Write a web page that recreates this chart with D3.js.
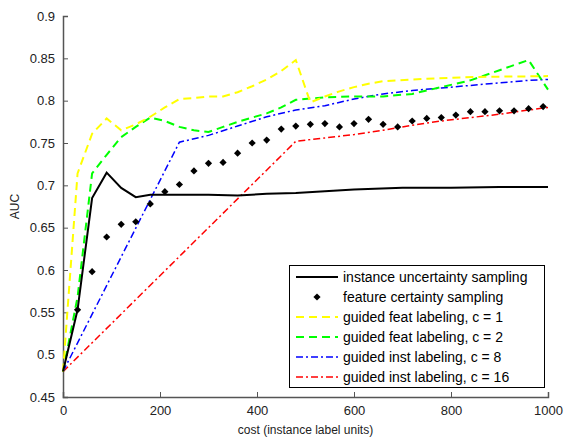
<!DOCTYPE html>
<html>
<head>
<meta charset="utf-8">
<script src="https://cdn.jsdelivr.net/npm/d3@7"></script>
<style>
  body { margin: 0; background: #fff; }
  text { font-family: "Liberation Sans", Arial, sans-serif; }
</style>
</head>
<body>
<div id="chart"></div>
<script>
// Data (cost, AUC)
const instUncertainty = [[0,0.48],[30,0.553],[60,0.685],[90,0.715],[120,0.697],[150,0.686],[180,0.689],[240,0.689],[300,0.689],[360,0.688],[420,0.690],[480,0.691],[540,0.693],[600,0.695],[700,0.697],[800,0.697],[900,0.698],[1000,0.698]];
const featCertainty = [[30,0.553],[60,0.598],[90,0.639],[120,0.654],[150,0.657],[180,0.678],[210,0.6925],[240,0.701],[270,0.717],[300,0.726],[330,0.727],[360,0.738],[390,0.750],[420,0.7535],[450,0.7665],[480,0.770],[510,0.772],[540,0.773],[570,0.769],[600,0.773],[630,0.778],[660,0.772],[690,0.769],[720,0.776],[750,0.779],[780,0.780],[810,0.783],[840,0.787],[870,0.787],[900,0.788],[930,0.788],[960,0.7905],[990,0.793]];
const guidedFeat1 = [[0,0.48],[30,0.714],[60,0.761],[90,0.779],[120,0.765],[150,0.772],[180,0.781],[210,0.792],[240,0.802],[270,0.803],[300,0.805],[330,0.805],[360,0.810],[390,0.817],[420,0.825],[450,0.835],[480,0.848],[510,0.798],[540,0.805],[570,0.811],[600,0.816],[630,0.820],[660,0.823],[690,0.824],[750,0.826],[850,0.828],[1000,0.829]];
const guidedFeat2 = [[0,0.48],[30,0.568],[60,0.714],[90,0.736],[120,0.757],[150,0.769],[180,0.780],[210,0.776],[240,0.769],[270,0.765],[300,0.763],[330,0.769],[360,0.775],[390,0.780],[420,0.785],[450,0.792],[480,0.801],[540,0.804],[600,0.805],[660,0.805],[720,0.808],[780,0.816],[840,0.824],[900,0.836],[960,0.848],[1000,0.813]];
const guidedInst8 = [[0,0.48],[240,0.751],[300,0.759],[360,0.770],[420,0.781],[480,0.789],[540,0.794],[600,0.802],[660,0.808],[720,0.812],[780,0.815],[840,0.818],[900,0.821],[960,0.824],[1000,0.825]];
const guidedInst16 = [[0,0.48],[480,0.752],[540,0.756],[600,0.760],[660,0.765],[720,0.771],[780,0.776],[840,0.780],[900,0.784],[960,0.789],[1000,0.792]];

const xTicks = [0, 200, 400, 600, 800, 1000];
const yTicks = [0.45, 0.5, 0.55, 0.6, 0.65, 0.7, 0.75, 0.8, 0.85, 0.9];

const width = 564, height = 438;
const margin = { left: 63, right: 16, top: 16, bottom: 41 };

const svg = d3.select("#chart").append("svg")
  .attr("width", width)
  .attr("height", height);

const x = d3.scaleLinear().domain([0, 1000]).range([margin.left, width - margin.right]);
const y = d3.scaleLinear().domain([0.45, 0.9]).range([height - margin.bottom, margin.top]);

// Axes (MATLAB style, ticks pointing inward)
const axisColor = "#555";
const xAxis = svg.append("g")
  .attr("transform", `translate(0,${y(0.45)})`)
  .call(d3.axisBottom(x).tickValues(xTicks).tickSize(-5).tickPadding(9).tickFormat(d3.format("d")));
const yAxis = svg.append("g")
  .attr("transform", `translate(${x(0)},0)`)
  .call(d3.axisLeft(y).tickValues(yTicks).tickSize(-5).tickPadding(8).tickFormat(d => d3.format("")(d)));
[xAxis, yAxis].forEach(a => {
  a.select(".domain").attr("stroke", axisColor).attr("stroke-width", 1.5);
  a.selectAll(".tick line").attr("stroke", axisColor);
  a.selectAll(".tick text").attr("fill", "#222").style("font-size", "13px");
});

svg.append("text")
  .attr("x", x(500)).attr("y", 434)
  .attr("text-anchor", "middle")
  .style("font-size", "12px").attr("fill", "#222")
  .text("cost (instance label units)");

svg.append("text")
  .attr("transform", `translate(19,${y(0.675)}) rotate(-90)`)
  .attr("text-anchor", "middle")
  .style("font-size", "12px").attr("fill", "#222")
  .text("AUC");

const line = d3.line().x(d => x(d[0])).y(d => y(d[1]));

const series = [
  { name: "guided inst labeling, c = 16", data: guidedInst16, color: "#ff0000", dash: "7,3,2,3", width: 1.5 },
  { name: "guided inst labeling, c = 8", data: guidedInst8, color: "#0000ff", dash: "7,3,2,3", width: 1.5 },
  { name: "guided feat labeling, c = 2", data: guidedFeat2, color: "#00ff00", dash: "8,5", width: 2 },
  { name: "guided feat labeling, c = 1", data: guidedFeat1, color: "#ffff00", dash: "8,5", width: 2 },
  { name: "instance uncertainty sampling", data: instUncertainty, color: "#000", dash: null, width: 2 }
];

series.forEach(s => {
  svg.append("path")
    .datum(s.data)
    .attr("fill", "none")
    .attr("stroke", s.color)
    .attr("stroke-width", s.width)
    .attr("stroke-dasharray", s.dash)
    .attr("d", line);
});

// small square diamond marker like MATLAB's '.' style points
const diamond = "M0,-3.6L3.6,0L0,3.6L-3.6,0Z";
svg.append("g").selectAll("path")
  .data(featCertainty)
  .join("path")
    .attr("transform", d => `translate(${x(d[0])},${y(d[1])})`)
    .attr("d", diamond)
    .attr("fill", "#000");

// Legend
const legendItems = [
  { name: "instance uncertainty sampling", color: "#000", dash: null, marker: false, width: 2 },
  { name: "feature certainty sampling", color: "#000", dash: null, marker: true },
  { name: "guided feat labeling, c = 1", color: "#ffff00", dash: "8,5", marker: false, width: 2 },
  { name: "guided feat labeling, c = 2", color: "#00ff00", dash: "8,5", marker: false, width: 2 },
  { name: "guided inst labeling, c = 8", color: "#0000ff", dash: "7,3,2,3", marker: false, width: 1.5 },
  { name: "guided inst labeling, c = 16", color: "#ff0000", dash: "7,3,2,3", marker: false, width: 1.5 }
];

const legend = svg.append("g");
legend.append("rect")
  .attr("x", 289.5).attr("y", 265.5)
  .attr("width", 255).attr("height", 122)
  .attr("fill", "#fff").attr("stroke", "#000").attr("stroke-width", 1);

legendItems.forEach((d, i) => {
  const cy = 277 + i * 20;
  if (d.marker) {
    legend.append("path")
      .attr("transform", `translate(317,${cy})`)
      .attr("d", diamond).attr("fill", "#000");
  } else {
    legend.append("line")
      .attr("x1", 296).attr("x2", 338).attr("y1", cy).attr("y2", cy)
      .attr("stroke", d.color).attr("stroke-width", d.width)
      .attr("stroke-dasharray", d.dash);
  }
  legend.append("text")
    .attr("x", 343).attr("y", cy + 5)
    .style("font-size", "14px").attr("fill", "#000")
    .text(d.name);
});
</script>
</body>
</html>
